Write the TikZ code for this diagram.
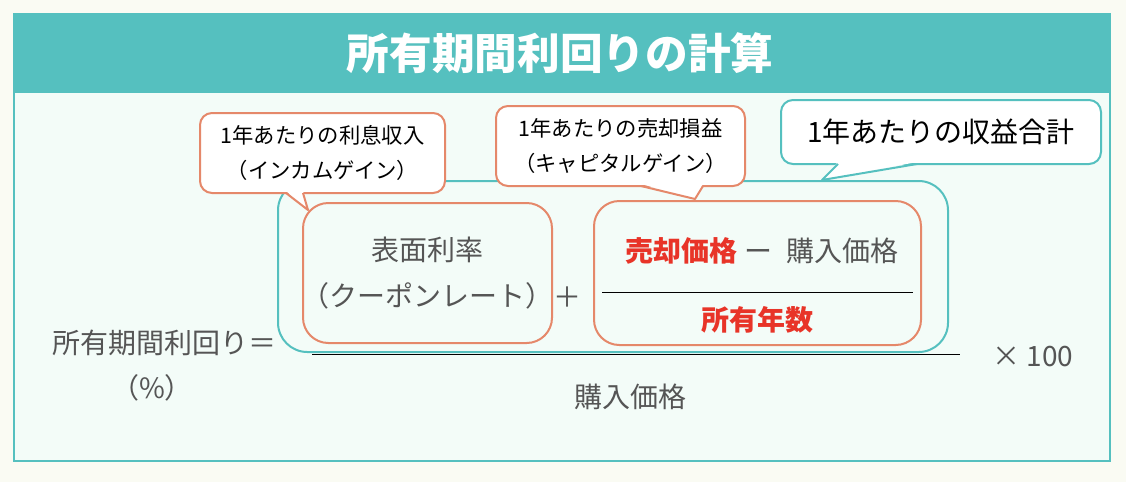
\documentclass[tikz,border=0pt]{standalone}
\usepackage{fontspec}
\setmainfont{Noto Sans CJK JP}
\usetikzlibrary{calc}

\definecolor{paper}{RGB}{250,251,243}
\definecolor{panel}{RGB}{243,252,248}
\definecolor{tealbd}{RGB}{85,192,191}
\definecolor{orgline}{RGB}{229,136,106}
\definecolor{redtx}{RGB}{232,52,40}
\definecolor{graytx}{RGB}{85,85,85}

\tikzset{
	txt/.style={text=graytx, font=\fontsize{21}{35}\selectfont, align=center, inner sep=0pt},
	redtxt/.style={text=redtx, font=\fontsize{21}{35}\selectfont\bfseries, inner sep=0pt},
	tealbox/.style={draw=tealbd, line width=1.5pt, rounded corners=22pt, inner sep=0pt},
	orgbox/.style={draw=orgline, line width=1.5pt, rounded corners=19pt, inner sep=0pt},
	note/.style={fill=white, line width=1.5pt, rounded corners=9pt, inner sep=0pt, align=center, font=\fontsize{16}{26}\selectfont},
	rule/.style={line width=0.75pt, black}
}

\begin{document}
\begin{tikzpicture}[x=0.75pt, y=-0.75pt]
	% фон и рамка
	\fill [paper] ( 0, 0 ) rectangle ( 1126, 482 );
	\draw [fill=panel, draw=tealbd, line width=1.5pt] ( 14, 14 ) rectangle ( 1110, 461 );
	\fill [tealbd] ( 14, 14 ) rectangle ( 1110, 93 );
	\node (title) [text=white, font=\fontsize{32}{36}\selectfont\bfseries] at ( 560, 53 ) {所有期間利回りの計算};

	% числитель
	\node (sum) [tealbox, minimum width=502.5pt, minimum height=128.25pt] at ( 613, 266.5 ) {};
	\node (lbox) [orgbox, minimum width=186.75pt, minimum height=105pt] at ( 427.5, 273 ) {};
	\node (coupon) [txt] at ( 427.5, 273 ) {表面利率\\（クーポンレート）};
	\node (plus) [txt] at ( 567, 297 ) {＋};
	\node (rbox) [orgbox, minimum width=245.25pt, minimum height=108pt] at ( 757.5, 273 ) {};
	\node (sell) [redtxt, anchor=base east] at ( 738, 261 ) {売却価格};
	\node (minus) [txt, anchor=base west] at ( 744, 261 ) {ー\hspace{0.5em}購入価格};
	\node (years) [redtxt] at ( 757.5, 320 ) {所有年数};
	\draw [rule] ($(rbox.west)+(9,19)$) -- ($(rbox.east)+(-9,19)$);

	% дробь
	\draw [rule] ( 312, 354 ) -- ( 960, 354 );
	\node (price) [txt] at ( 630, 397 ) {購入価格};
	\node (times) [txt] at ( 1033, 357 ) {×\hspace{0.2em}100};
	\node (yield) [txt] at ( 164, 343 ) {所有期間利回り＝};
	\node (pct) [txt] at ( 152, 388 ) {（\%）};

	% выноски
	\node (note1) [note, draw=orgline, minimum width=183.75pt, minimum height=60pt] at ( 322.5, 153 ) {1年あたりの利息収入\\（インカムゲイン）};
	\coordinate (tip1) at ( 308, 210 );
	\fill [white] ( 286, 191 ) -- (tip1) -- ( 303, 191 ) -- cycle;
	\draw [orgline, line width=1.5pt, line join=round] ( 286, 193 ) -- (tip1) -- ( 303, 193 );

	\node (note2) [note, draw=orgline, minimum width=186.75pt, minimum height=60pt] at ( 620.5, 146 ) {1年あたりの売却損益\\（キャピタルゲイン）};
	\coordinate (tip2) at ( 695, 199 );
	\fill [white] ( 641, 184 ) -- (tip2) -- ( 703, 184 ) -- cycle;
	\draw [orgline, line width=1.5pt, line join=round] ( 641, 186 ) -- (tip2) -- ( 703, 186 );

	\node (note3) [note, draw=tealbd, minimum width=240pt, minimum height=48pt, font=\fontsize{21}{26}\selectfont] at ( 941, 132 ) {1年あたりの収益合計};
	\coordinate (tip3) at ( 822, 180 );
	\fill [white] ( 838, 162 ) -- (tip3) -- ( 917, 162 ) -- cycle;
	\draw [tealbd, line width=1.5pt, line join=round] ( 838, 164 ) -- (tip3) -- ( 917, 164 );
\end{tikzpicture}
\end{document}
